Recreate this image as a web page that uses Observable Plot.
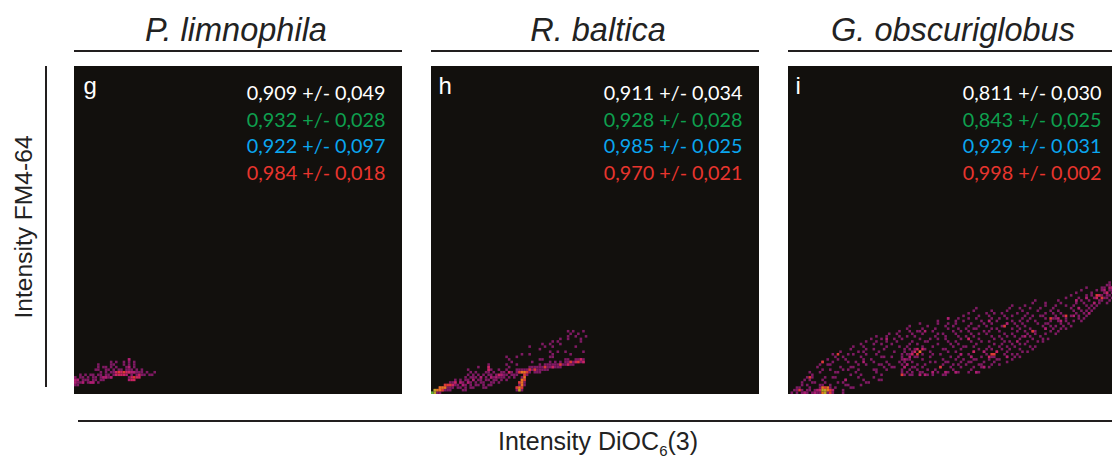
<!DOCTYPE html>
<html><head><meta charset="utf-8">
<script src="https://cdn.jsdelivr.net/npm/d3@7"></script>
<script src="https://cdn.jsdelivr.net/npm/@observablehq/plot@0.6"></script>
<style>
html,body{margin:0;padding:0;background:#fff;overflow:hidden}
#page{position:relative;width:1112px;height:459px;overflow:hidden;font-family:"Liberation Sans",Arial,sans-serif;color:#222}
.panel{position:absolute;top:66px;width:328px;height:328px;background:#12100d}
.title{position:absolute;top:12px;font-style:italic;font-size:32.5px;line-height:36px;text-align:center;width:328px;white-space:nowrap}
.rule{position:absolute;background:#221f1f}
.ylab{position:absolute;left:24px;top:227px;font-size:24.6px;white-space:nowrap;transform:translate(-50%,-50%) rotate(-90deg)}
.xlab{position:absolute;left:598px;top:441px;font-size:25px;white-space:nowrap;transform:translate(-50%,-50%)}
.xlab sub{font-size:15px;line-height:0;vertical-align:-6px}
</style></head><body><div id="page"></div>
<script>
const panelNames = ["P. limnophila","R. baltica","G. obscuriglobus"];
const panelLetters = ["g","h","i"];
const yAxisLabel = "Intensity FM4-64";
const statColors = ["#ffffff","#0ea04f","#0aa6ef","#e8352e"];
const statsLimnophila = ["0,909 +/- 0,049","0,932 +/- 0,028","0,922 +/- 0,097","0,984 +/- 0,018"];
const statsBaltica = ["0,911 +/- 0,034","0,928 +/- 0,028","0,985 +/- 0,025","0,970 +/- 0,021"];
const statsObscuriglobus = ["0,811 +/- 0,030","0,843 +/- 0,025","0,929 +/- 0,031","0,998 +/- 0,002"];
const densityLevels = [1,2,3,4,5,6,7];
const densityColors = ["#7f1a63","#b01e70","#cb2462","#dd3a35","#e8761f","#b9a622","#62ad35"];

// rows of occupied 128x128 histogram bins: [intensity bin y, [intensity bins x]]
const rowsLimnophila = [
 [3,[0,1]],
 [4,[0,1,2,3,5,6,7,9]],
 [5,[0,1,3,4,5,7,8,10,11]],
 [6,[0,2,3,5,7,8,10,11,12,13,14,21]],
 [7,[2,4,6,7,9,10,12,13,15,22,24,26,27,29,30]],
 [8,[10,12,14,15,21,22,23,24,25,26,28,31]],
 [9,[8,9,12,13,15,17,18,20,21,22,24,26]],
 [10,[9,11,12,14,16,20,21,23]],
 [11,[9,14,15,19,21,23]],
 [12,[14,16,19,21,23]],
 [13,[21]]
];
const hotLimnophila = [[16,7,3],[17,7,3],[18,7,3],[19,7,3],[20,7,2],[16,8,3],[17,8,4],[18,8,3],[19,8,4],[20,8,3],[21,8,3],[22,8,2],[23,8,2],[22,6,3],[23,6,4],[24,6,3],[25,6,3],[21,5,2],[22,5,3],[23,5,3],[25,7,3],[0,5,2],[1,5,2],[0,4,2],[3,4,2],[6,4,2],[7,4,2],[11,6,2],[12,6,2],[14,6,2],[21,13,2],[21,10,2]];

const rowsBaltica = [
 [0,[1,2,3]],
 [1,[1,2,3,4,5,6,7,12,13,33,34,35]],
 [2,[3,4,5,6,7,8,10,11,13,15,16,20,21,33,34,35]],
 [3,[5,6,7,8,9,10,12,13,15,17,18,20,22,23,34,35,36]],
 [4,[7,8,9,11,12,14,15,17,19,20,23,24,26,34,35,36]],
 [5,[9,11,13,14,16,18,19,21,22,24,25,27,29,35,36]],
 [6,[13,15,16,17,19,21,23,24,26,27,28,30,32,35,36]],
 [7,[14,16,18,20,22,23,25,27,28,29,31,32,33,36,37]],
 [8,[15,17,21,22,24,27,28,30,31,33,34,35,36,37,38,40,41,42]],
 [9,[14,22,23,26,29,33,34,35,36,37,38,39,40,41,42,43,44,45]],
 [10,[18,22,30,38,39,40,41,42,43,44,45,46,47,48,49,50]],
 [11,[22,29,33,42,44,45,46,47,48,49,50,51,52,53,54,55]],
 [12,[31,39,46,48,50,52,53,54,55,56,57,58,59]],
 [13,[30,42,43,52,53,56,57,58,59]],
 [14,[29,33,46,47]],
 [15,[35,38,47,54]],
 [16,[46,49,52,59]],
 [17,[42]],
 [18,[38,44,47,56]],
 [19,[43,46,50]],
 [20,[47,49,58]],
 [21,[50,53,58]],
 [22,[53,56,60]],
 [23,[54,57]],
 [24,[53,55,59]]
];
const hotBaltica = [[0,0,7],[1,0,6],[1,1,6],[2,1,5],[3,1,5],[3,2,5],[4,2,5],[5,2,5],[4,1,4],[5,3,4],[6,3,4],[7,3,4],[8,3,3],[9,4,3],[11,4,2],[12,3,2],[14,4,2],[16,5,2],[19,6,2],[23,6,2],[25,6,2],[27,7,2],[34,1,6],[34,2,5],[35,2,4],[33,2,4],[35,3,5],[35,4,5],[34,4,4],[35,5,5],[36,5,4],[36,6,5],[36,7,4],[36,8,5],[35,8,5],[34,8,4],[37,8,4],[38,9,4],[40,9,4],[44,10,4],[47,10,3],[50,11,4],[53,11,3],[54,12,4],[56,12,3],[57,12,4],[58,13,3],[59,12,3],[26,7,3],[30,8,3],[22,10,3],[22,9,3]];

const rowsObscuriglobus = [
 [0,[1,3,5,6,7,9,10,11,12,14,15,16,17,21]],
 [1,[2,3,5,7,8,10,11,12,15,16,17,21]],
 [2,[3,4,8,12,13,14,16,18,24,25]],
 [3,[5,7,12,13,16,22,23,28]],
 [4,[5,9,10,14,19,21,30,31]],
 [5,[6,8,13,22,29,35,36]],
 [6,[7,9,14,17,18,27,33]],
 [7,[9,24,28,36,44,45,47,48,51,53,54,56,60,61]],
 [8,[8,12,18,19,26,34,44,46,48,51,52,56,58,61,62,65,66,70,73,74]],
 [9,[13,16,21,23,27,33,34,38,44,47,50,54,57,64,71]],
 [10,[11,20,24,25,37,40,41,45,48,49,52,59,63,67,72,75,76,78]],
 [11,[12,15,16,27,30,35,36,39,44,46,50,53,60,64,66,69,74,75,79,82]],
 [12,[13,17,23,26,33,38,43,45,48,55,57,61,62,67,70,71,76,80,85]],
 [13,[15,19,22,29,32,44,46,47,52,60,65,68,72,73,78,81,82,87]],
 [14,[18,21,28,36,37,40,44,49,50,55,63,66,71,75,79,80,85,88,90]],
 [15,[17,23,25,30,34,44,46,47,52,56,59,67,70,77,84,87,89]],
 [16,[20,27,29,35,41,45,48,51,55,62,65,72,76,81,85,91,93]],
 [17,[24,30,33,37,45,47,49,53,60,61,67,74,77,79,83,86,90,95]],
 [18,[25,29,38,43,46,52,56,64,68,69,72,78,82,85,88,94,96]],
 [19,[28,33,36,40,47,50,58,63,66,73,80,83,87,90,92]],
 [20,[30,34,38,42,48,53,54,62,65,71,75,78,84,86,93,97,99]],
 [21,[32,36,41,44,51,55,58,61,67,70,74,80,83,90,95,99,101]],
 [22,[34,38,43,46,49,57,61,66,69,72,79,82,85,88,91,94,98]],
 [23,[39,42,48,52,58,60,65,71,74,77,84,87,93,96,100,104]],
 [24,[43,47,50,51,56,64,67,70,76,78,82,89,92,95,96,102,105]],
 [25,[46,52,57,62,66,69,72,73,79,81,87,90,94,100,103,106,108]],
 [26,[47,54,61,64,70,74,77,83,84,89,92,99,102,104,107,110]],
 [27,[51,58,62,65,71,76,79,85,88,91,97,100,101,106,109]],
 [28,[58,65,68,75,78,81,87,90,93,96,102,105,108,111,114]],
 [29,[62,66,70,73,79,82,85,91,94,100,103,104,108,113,115]],
 [30,[68,74,78,84,87,92,95,98,99,104,107,110,113,116]],
 [31,[70,77,80,83,89,93,100,103,106,112,115,117]],
 [32,[72,79,85,91,97,102,105,111,114,116,118]],
 [33,[73,86,90,94,98,103,110,113,117,119]],
 [34,[87,92,100,104,108,111,116,118,120]],
 [35,[95,100,106,112,115,119,121,124]],
 [36,[96,105,112,114,117,121,122,125]],
 [37,[108,113,116,119,120,123,124,126]],
 [38,[110,116,118,121,122,124,125]],
 [39,[112,118,123,124,126]],
 [40,[114,120,122,125,126]],
 [41,[116,122,123,126]],
 [42,[124,125]],
 [43,[125]]
];
const hotObscuriglobus = [[13,1,6],[14,1,6],[14,0,6],[15,1,5],[15,2,5],[13,2,5],[13,0,5],[14,2,4],[16,1,4],[16,0,4],[12,1,3],[13,12,4],[19,15,4],[8,6,4],[4,1,4],[49,16,3],[50,17,3],[51,16,5],[50,15,4],[52,17,3],[48,15,3],[44,7,4],[79,15,4],[80,15,4],[81,16,3],[78,14,3],[59,10,4],[84,26,4],[102,29,4],[120,38,4],[121,38,3],[122,37,4],[120,37,3],[124,39,3],[125,41,2],[112,36,2],[105,29,2],[108,30,4],[95,24,4],[70,21,3],[72,16,3],[6,0,2],[10,0,2],[11,1,2],[17,1,2],[45,10,2],[46,11,2],[47,14,2],[45,13,2],[51,7,2],[53,7,2],[56,8,2],[61,8,2],[65,8,2],[73,8,2],[76,10,2],[67,15,2],[71,14,2],[76,16,2],[85,14,2],[89,20,2],[92,22,2],[100,25,2],[106,28,2],[111,30,2],[117,31,2],[113,33,2],[119,35,2],[116,37,2],[123,40,2],[126,41,2],[78,28,2],[85,27,2],[62,29,2],[53,24,2],[38,21,2],[29,12,2],[22,5,2]];

const allCells = (rows, hot) => {
  const base = rows.flatMap(([y, xs]) => xs.map(x => ({x, y, level: 1})));
  return base.concat(hot.map(([x, y, level]) => ({x, y, level})));
};

const panels = [
  {name: panelNames[0], letter: panelLetters[0], stats: statsLimnophila, cells: allCells(rowsLimnophila, hotLimnophila), left: 74, inset: 17, letterDx: 9, titleShift: -2},
  {name: panelNames[1], letter: panelLetters[1], stats: statsBaltica, cells: allCells(rowsBaltica, hotBaltica), left: 431, inset: 17, letterDx: 7, titleShift: 3},
  {name: panelNames[2], letter: panelLetters[2], stats: statsObscuriglobus, cells: allCells(rowsObscuriglobus, hotObscuriglobus), left: 788, inset: 15, letterDx: 7, titleShift: 1}
];
const statRowOffsets = [27, 54, 80, 107];

const page = document.getElementById("page");
const addDiv = (cls, css, html) => {
  const d = document.createElement("div");
  d.className = cls;
  if (css) d.style.cssText = css;
  if (html) d.innerHTML = html;
  page.appendChild(d);
};

for (const p of panels) {
  addDiv("title", `left:${p.left + p.titleShift}px`, p.name);
  addDiv("rule", `left:${p.left}px;top:49.5px;width:328px;height:2px`);
  const chart = Plot.plot({
    width: 328, height: 328,
    margin: 0,
    style: {background: "#12100d"},
    x: {domain: [0, 128], axis: null},
    y: {domain: [0, 128], axis: null},
    color: {type: "ordinal", domain: densityLevels, range: densityColors},
    marks: [
      Plot.rect(p.cells, {x1: "x", x2: d => d.x + 1, y1: "y", y2: d => d.y + 1, fill: "level", inset: 0, sort: "level"}),
      Plot.text([p.letter], {text: d => d, frameAnchor: "top-left", dx: p.letterDx, dy: 20, fill: "#fff", fontSize: 24, fontFamily: "Liberation Sans", lineAnchor: "middle"}),
      ...p.stats.map((s, i) => Plot.text([s], {text: d => d, frameAnchor: "top-right", dx: -p.inset, dy: statRowOffsets[i], fill: statColors[i], fontSize: 19.8, fontFamily: "Lato", lineAnchor: "middle", textAnchor: "end"}))
    ]
  });
  const holder = document.createElement("div");
  holder.className = "panel";
  holder.style.left = p.left + "px";
  holder.appendChild(chart);
  page.appendChild(holder);
}
addDiv("rule", "left:45px;top:66px;width:2px;height:321px");
addDiv("rule", "left:78px;top:419.5px;width:1034px;height:2px");
addDiv("ylab", "", yAxisLabel);
addDiv("xlab", "", "Intensity DiOC<sub>6</sub>(3)");
</script></body></html>
